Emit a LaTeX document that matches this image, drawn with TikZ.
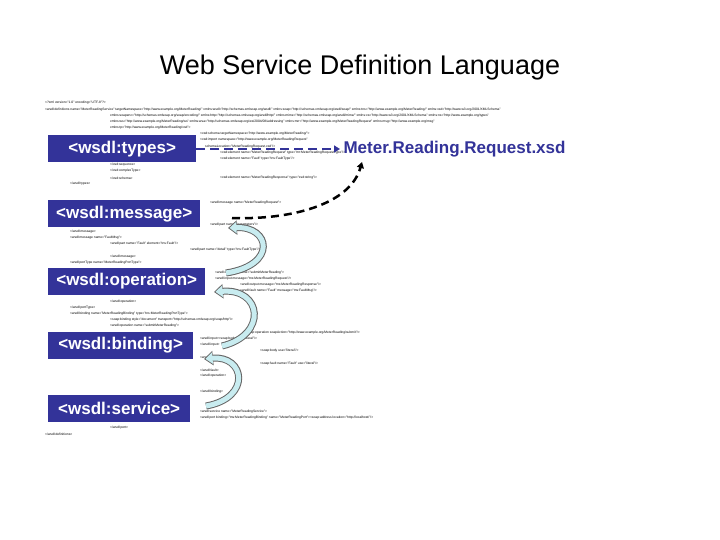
\documentclass[tikz,border=0pt]{standalone}
\usepackage{fontspec}
\setmainfont{Liberation Sans}
\usepackage{tikz}
\usepackage{xcolor}
\usetikzlibrary{arrows.meta}
\definecolor{wsdlblue}{HTML}{333399}
\definecolor{ribbon}{HTML}{C8ECF0}
\tikzset{
  part/.style={fill=wsdlblue, text=white, font=\bfseries\fontsize{17}{18}\selectfont, anchor=west, inner xsep=4pt, minimum height=27pt},
  tiny/.style={font=\fontsize{3.3}{3.5}\selectfont, anchor=west, inner sep=0pt},
}
\newcommand{\curl}[3]{%
  \draw[line width=7pt, gray!80!black, -{Triangle[length=9pt,width=14pt]}] (#1) .. controls #2 .. (#3);
  \draw[line width=5pt, ribbon, shorten >=1.5pt, -{Triangle[length=7pt,width=11pt]}] (#1) .. controls #2 .. (#3);}
\begin{document}
\begin{tikzpicture}[x=1pt,y=-1pt]
    \useasboundingbox[fill=white] (0,0) rectangle (720,540);

    \node (title) at (360,68) {\fontsize{27}{29}\selectfont Web Service Definition Language};

    % small source lines
    \foreach \xx/\yy/\txt in {
      45/103/{<?xml version="1.0" encoding="UTF-8"?>},
      45/110/{<wsdl:definitions name="MeterReadingService" targetNamespace="http://www.example.org/MeterReading/" xmlns:wsdl="http://schemas.xmlsoap.org/wsdl/" xmlns:soap="http://schemas.xmlsoap.org/wsdl/soap/" xmlns:tns="http://www.example.org/MeterReading/" xmlns:xsd="http://www.w3.org/2001/XMLSchema"},
      110/116/{xmlns:soapenc="http://schemas.xmlsoap.org/soap/encoding/" xmlns:http="http://schemas.xmlsoap.org/wsdl/http/" xmlns:mime="http://schemas.xmlsoap.org/wsdl/mime/" xmlns:xs="http://www.w3.org/2001/XMLSchema" xmlns:ns="http://www.example.org/types"},
      110/122/{xmlns:ws="http://www.example.org/MeterReading/ws" xmlns:wsa="http://schemas.xmlsoap.org/ws/2004/08/addressing" xmlns:mrr="http://www.example.org/MeterReadingRequest" xmlns:msg="http://www.example.org/msg"},
      110/128/{xmlns:tp="http://www.example.org/MeterReading/xsd">},
      200/134/{<xsd:schema targetNamespace="http://www.example.org/MeterReading/">},
      200/140/{<xsd:import namespace="http://www.example.org/MeterReadingRequest"},
      205/147/{schemaLocation="MeterReadingRequest.xsd"/>},
      220/153/{<xsd:element name="MeterReadingRequest" type="mr:MeterReadingRequestType"/>},
      220/159/{<xsd:element name="Fault" type="tns:FaultType"/>},
      110/165/{</xsd:sequence>},
      110/171/{</xsd:complexType>},
      220/178/{<xsd:element name="MeterReadingResponse" type="xsd:string"/>},
      110/178/{</xsd:schema>},
      70/184/{</wsdl:types>},
      210/203/{<wsdl:message name="MeterReadingRequest">},
      210/225/{<wsdl:part name="parameters"/>},
      70/232/{</wsdl:message>},
      70/238/{<wsdl:message name="FaultMsg">},
      110/244/{<wsdl:part name="Fault" element="tns:Fault"/>},
      190/250/{<wsdl:part name="detail" type="tns:FaultType"/>},
      110/257/{</wsdl:message>},
      70/263/{<wsdl:portType name="MeterReadingPortType">},
      215/273/{<wsdl:operation name="submitMeterReading">},
      215/279/{<wsdl:input message="tns:MeterReadingRequest"/>},
      240/285/{<wsdl:output message="tns:MeterReadingResponse"/>},
      240/291/{<wsdl:fault name="Fault" message="tns:FaultMsg"/>},
      110/302/{</wsdl:operation>},
      70/308/{</wsdl:portType>},
      70/314/{<wsdl:binding name="MeterReadingBinding" type="tns:MeterReadingPortType">},
      110/320/{<soap:binding style="document" transport="http://schemas.xmlsoap.org/soap/http"/>},
      110/326/{<wsdl:operation name="submitMeterReading">},
      245/333/{<soap:operation soapAction="http://www.example.org/MeterReading/submit"/>},
      200/339/{<wsdl:input><soap:body use="literal"/>},
      200/345/{</wsdl:input>},
      260/351/{<soap:body use="literal"/>},
      200/358/{<wsdl:output>},
      260/364/{<soap:fault name="Fault" use="literal"/>},
      200/370/{</wsdl:fault>},
      200/376/{</wsdl:operation>},
      200/392/{</wsdl:binding>},
      200/412/{<wsdl:service name="MeterReadingService">},
      200/418/{<wsdl:port binding="tns:MeterReadingBinding" name="MeterReadingPort"><soap:address location="http://localhost/"/>},
      110/428/{</wsdl:port>},
      45/434/{</wsdl:definitions>}}
      \node[tiny] at (\xx,\yy) {\txt};

    \node[part, minimum width=148pt] (types) at (48,149) {<wsdl:types>};
    \node[part, minimum width=152pt] (message) at (48,214) {<wsdl:message>};
    \node[part, minimum width=157pt] (operation) at (48,281) {<wsdl:operation>};
    \node[part, minimum width=145pt] (binding) at (48,345) {<wsdl:binding>};
    \node[part, minimum width=142pt] (service) at (48,408) {<wsdl:service>};
    \node[anchor=west, text=wsdlblue, font=\bfseries\fontsize{17}{18}\selectfont] (xsd) at (340,149) {Meter.Reading.Request.xsd};

    \draw[wsdlblue, line width=2.5pt, dash pattern=on 9pt off 5pt, -{Triangle[length=6pt,width=7pt]}] (types.east) -- (xsd.west);
    \coordinate (mstart) at (232,218);
    \coordinate (mtop) at (362,162);
    \draw[black, line width=2.5pt, dash pattern=on 8pt off 5pt, -{Triangle[length=6pt,width=7pt]}] (mstart) .. controls (290,220) and (350,205) .. (mtop);

    \coordinate (c1a) at (226,273);
    \coordinate (c1b) at (228,228);
    \coordinate (c2a) at (222,346);
    \coordinate (c2b) at (214,292);
    \coordinate (c3a) at (206,406);
    \coordinate (c3b) at (204,359);
    \curl{c1a}{(278,265) and (270,226)}{c1b}
    \curl{c2a}{(268,335) and (262,288)}{c2b}
    \curl{c3a}{(252,398) and (245,355)}{c3b}
\end{tikzpicture}
\end{document}
